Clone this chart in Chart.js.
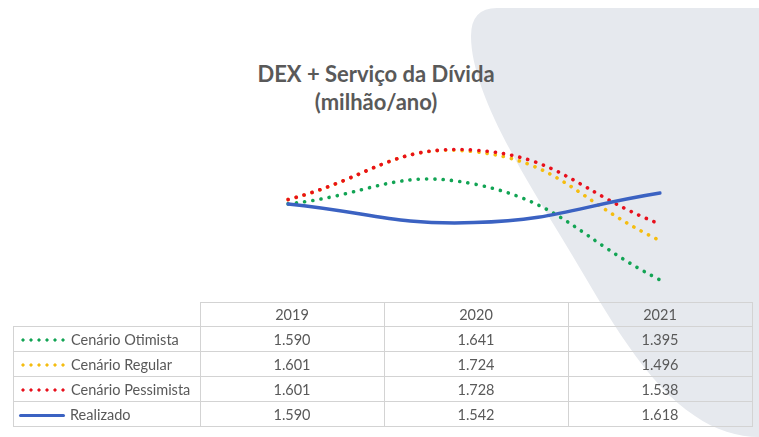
<!DOCTYPE html>
<html lang="pt-BR">
<head>
<meta charset="utf-8">
<script src="https://cdn.jsdelivr.net/npm/chart.js@4.4.1/dist/chart.umd.min.js"></script>
<style>
  html, body { margin: 0; padding: 0; background: #fff; }
  #wrap { position: relative; width: 759px; height: 437px; overflow: hidden; font-family: Lato, "Open Sans", sans-serif; color: #595959; }
  #fundo { position: absolute; left: 0; top: 0; }
  #titulo { position: absolute; left: 176px; width: 400px; top: 60px; text-align: center; font-weight: bold; font-size: 22px; line-height: 28px; }
  #grafico { position: absolute; left: 0; top: 0; }
  #tabela { position: absolute; left: 13px; top: 302px; border-collapse: collapse; font-size: 14.5px; table-layout: fixed; }
  #tabela th, #tabela td { border: 1px solid #d3d3d3; padding: 0; font-weight: normal; text-align: center; }
  #tabela th { height: 23px; }
  #tabela td { height: 24px; }
  #tabela th.vazio { border-top: none; border-left: none; }
  #tabela td.rotulo { text-align: left; padding-left: 5px; white-space: nowrap; }
  .amostra { display: inline-block; width: 48px; height: 8px; vertical-align: middle; margin-right: 4px; position: relative; top: -1px; }
</style>
</head>
<body>
<div id="wrap">
  <svg id="fundo" width="759" height="437">
    <path d="M 759 8 L 497 8 Q 471 8 471 36 C 471 90 520 170 560 235 C 600 300 640 380 695 416 C 715 430 738 437 759 437 Z" fill="#e6e9ee"/>
  </svg>
  <div id="titulo">DEX + Serviço da Dívida<br>(milhão/ano)</div>
  <canvas id="grafico" width="759" height="437"></canvas>
  <table id="tabela">
    <thead><tr id="cabecalho"><th class="vazio" style="width:186px"></th></tr></thead>
    <tbody id="corpo"></tbody>
  </table>
</div>
<script>
// Anos e valores (milhão/ano)
const anos = ['2019', '2020', '2021'];
const nomesSeries = ['Cenário Otimista', 'Cenário Regular', 'Cenário Pessimista', 'Realizado'];
const otimista = [1590, 1641, 1395];
const regular = [1601, 1724, 1496];
const pessimista = [1601, 1728, 1538];
const realizado = [1590, 1542, 1618];

const cores = {
    otimista: '#12a454',
    regular: '#f5bd10',
    pessimista: '#e8101c',
    realizado: '#3b62c2'
};

const series = [
    { nome: nomesSeries[0], valores: otimista, cor: cores.otimista, pontilhado: true },
    { nome: nomesSeries[1], valores: regular, cor: cores.regular, pontilhado: true },
    { nome: nomesSeries[2], valores: pessimista, cor: cores.pessimista, pontilhado: true },
    { nome: nomesSeries[3], valores: realizado, cor: cores.realizado, pontilhado: false }
];

// Tabela de dados (funciona como legenda)
const cab = document.getElementById('cabecalho');
anos.forEach(a => {
    const th = document.createElement('th');
    th.textContent = a;
    th.style.width = '183px';
    cab.appendChild(th);
});
const corpo = document.getElementById('corpo');
series.forEach(s => {
    const tr = document.createElement('tr');
    const amostra = s.pontilhado
        ? `<span class="amostra" style="background: radial-gradient(circle, ${s.cor} 1.3px, transparent 1.9px) 0 0 / 8px 8px repeat-x;"></span>`
        : `<span class="amostra" style="height:3px; background:${s.cor}; border-radius:2px; width:46px; margin-right:5px; top:0;"></span>`;
    let html = `<td class="rotulo">${amostra}${s.nome}</td>`;
    s.valores.forEach(v => { html += `<td>${v.toLocaleString('pt-BR')}</td>`; });
    tr.innerHTML = html;
    corpo.appendChild(tr);
});

// Gráfico
new Chart(document.getElementById('grafico').getContext('2d'), {
    type: 'line',
    data: {
        labels: anos,
        datasets: series.map((s, i) => ({
            label: s.nome,
            data: s.valores,
            borderColor: s.cor,
            backgroundColor: s.cor,
            borderWidth: s.pontilhado ? 3.6 : 3.5,
            borderDash: s.pontilhado ? [0.1, 8.2] : [],
            borderCapStyle: 'round',
            pointRadius: 0,
            tension: 0.45,
            fill: false,
            order: series.length - 1 - i
        }))
    },
    options: {
        responsive: false,
        animation: false,
        layout: { padding: { left: 288, right: 99, top: 122, bottom: 139.5 } },
        scales: {
            x: { display: false, offset: false },
            y: { display: false, min: 1350, max: 1800 }
        },
        plugins: { legend: { display: false }, tooltip: { enabled: false } }
    }
});
</script>
</body>
</html>
